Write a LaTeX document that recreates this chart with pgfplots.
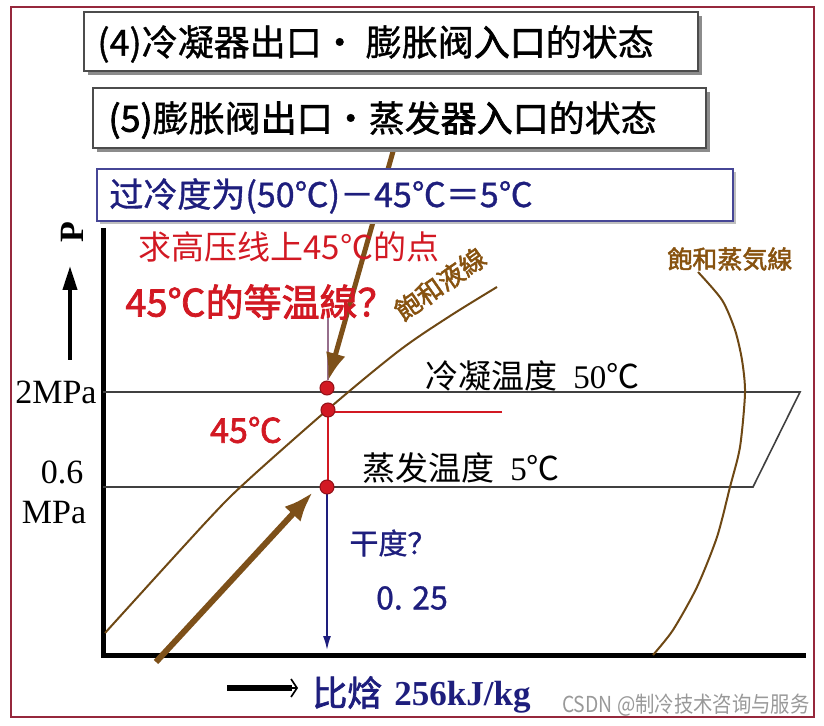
\documentclass[border=0pt]{standalone}
\usepackage{pgfplots}
\pgfplotsset{compat=1.18}
\usepackage{fontspec}
\setmainfont{Liberation Sans}
\newfontfamily\cjk{Noto Sans CJK SC}
\newfontfamily\cjkb{Noto Sans CJK SC}[FakeBold=2]
\newfontfamily\cjkm{Noto Sans CJK SC}[FakeBold=1]
\newfontfamily\tms{Liberation Serif}
\usetikzlibrary{arrows.meta}
\definecolor{brn}{RGB}{110,72,20}
\definecolor{arrbrn}{RGB}{125,80,25}
\definecolor{lblbrn}{RGB}{135,82,15}
\definecolor{rd}{RGB}{210,25,35}
\definecolor{navy}{RGB}{30,30,125}
\definecolor{boxblue}{RGB}{70,70,150}
\definecolor{frm}{RGB}{150,40,60}
\definecolor{mauve}{RGB}{150,110,140}
\newcommand{\fs}[1]{\fontsize{#1}{#1}\selectfont}
\begin{document}
\begin{tikzpicture}
\begin{axis}[scale only axis, width=412pt, height=363pt,
  xmin=0, xmax=824, ymin=0, ymax=726, y dir=reverse,
  hide axis, clip=false]
\path (0,0) rectangle (824,726);
% outer frame
\draw[frm, line width=0.6pt] (11,7) rectangle (814,717);
% axes
\addplot[black, line width=2.5pt, line join=miter] coordinates {(103,228) (103,655) (806,655)};
% up arrow
\addplot[black, line width=2pt, -{Triangle[length=12pt,width=7pt]}] coordinates {(70,360) (70,266)};
\node[rotate=90, inner sep=0, font=\tms\bfseries\fs{17pt}] at (72,232) {P};
% pressure labels
\node[anchor=east, inner sep=0, font=\tms\fs{17pt}] at (97,392) {2MPa};
\node[inner sep=0, font=\tms\fs{17pt}] at (62,472) {0.6};
\node[inner sep=0, font=\tms\fs{17pt}] at (54,513) {MPa};
% condensing / evaporating lines
\addplot[black!75, line width=0.8pt] coordinates {(103,392) (800,392) (753,487) (103,487)};
% saturated liquid line
\addplot[brn, line width=1pt, smooth] coordinates {(105,633) (207,521) (247,481) (333,405) (400,350) (450,316) (497,287)};
% saturated vapour line
\addplot[brn, line width=1pt, smooth, tension=0.45] coordinates {(698,272) (722,300) (735,330) (742,360) (745,393) (740,447) (730,487) (717,537) (697,587) (673,630) (653,655)};
% red lines
\addplot[rd, line width=0.8pt] coordinates {(502,412) (328,412) (328,487)};
\addplot[mauve, line width=0.6pt] coordinates {(328,312) (328,380)};
% blue arrow
\addplot[navy, line width=0.8pt, -{Latex[length=7pt,width=4pt]}] coordinates {(327,494) (327,650)};
% big brown arrows
\addplot[arrbrn, line width=2.5pt, -{Latex[length=14pt,width=10pt]}] coordinates {(394,148) (328,381)};
\addplot[arrbrn, line width=3pt, -{Latex[length=15pt,width=11pt]}] coordinates {(156,662) (313,492)};
% red dots
\addplot[only marks, mark=*, mark size=3.5pt, mark options={fill=rd, draw=rd!70!black, line width=0.5pt}] coordinates {(327,388) (328,410) (327,487)};
% boxes
\fill[black!45] (88,16) rectangle (702,75);
\draw[black!70, fill=white, line width=0.8pt] (84,12) rectangle (698,71);
\fill[black!45] (97,92) rectangle (710,152);
\draw[black!70, fill=white, line width=0.8pt] (93,88) rectangle (706,148);
\fill[black!25] (100,172) rectangle (736,224);
\draw[boxblue, fill=white, line width=1pt] (97,169) rectangle (733,221);
\node[anchor=west, inner sep=0, font=\cjkm\fs{18pt}] at (97,44) {(4)冷凝器出口· 膨胀阀{\cjkb 入口}的状态};
\node[anchor=west, inner sep=0, font=\cjkm\fs{18pt}] at (108,120) {{\cjkb (5)}膨胀阀{\cjkb 出口}·蒸发{\cjkb 器入口}的状态};
\node[anchor=west, inner sep=0, text=navy, font=\cjkm\fs{17pt}] at (109,196) {过冷度为(50℃)－45℃＝5℃};
% red annotations
\node[anchor=west, inner sep=0, text=rd, font=\cjk\fs{16.5pt}] at (138,247) {求高压线上45℃的点};
\node[anchor=west, inner sep=0, text=rd, font=\cjkb\fs{19pt}] at (125,302) {45℃的等温線？};
\node[inner sep=0, text=rd, font=\cjkb\fs{17pt}] at (246,430) {45℃};
% temperature labels
\node[anchor=west, inner sep=0, font=\cjk\fs{16.5pt}] at (425,376) {冷凝温度\hspace{8pt}{\tms 50}℃};
\node[anchor=west, inner sep=0, font=\cjk\fs{16.5pt}] at (362,468) {蒸发温度\hspace{8pt}{\tms 5}℃};
% curve labels
\node[anchor=west, inner sep=0, text=lblbrn, font=\cjkb\fs{12.5pt}] at (667,259) {飽和蒸気線};
\node[rotate=35, inner sep=0, text=lblbrn, font=\cjkb\fs{13pt}] at (440,284) {飽和液線};
% dryness
\node[inner sep=0, text=navy, font=\cjkm\fs{14.5pt}] at (393,543) {干度？};
\node[inner sep=0, text=navy, font=\cjkm\fs{16pt}] at (412,598) {0. 25};
% x label
\addplot[black, line width=3pt] coordinates {(227,688) (292,688)};
\addplot[black, line width=0.8pt, -{Straight Barb[length=3pt,width=9pt]}] coordinates {(288,688) (298,688)};
\node[anchor=west, inner sep=0, text=navy, font=\cjkb\fs{17.5pt}] at (312,695) {比焓\hspace{6pt}{\tms\bfseries 256kJ/kg}};
% watermark
\node[anchor=east, inner sep=0, text=black!40, font=\cjk\fs{11pt}, xscale=0.88] at (810,705) {CSDN @制冷技术咨询与服务};
\end{axis}
\end{tikzpicture}
\end{document}
